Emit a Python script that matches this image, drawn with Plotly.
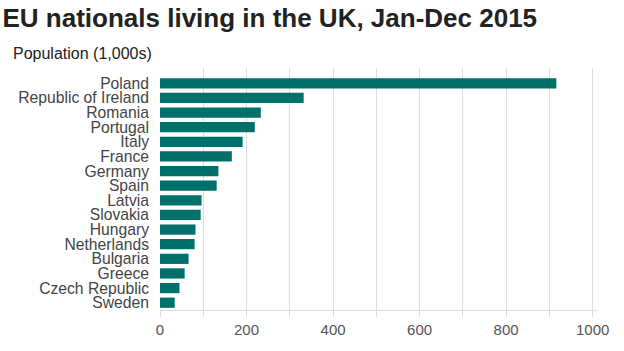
import plotly.graph_objects as go

countries = ["Poland", "Republic of Ireland", "Romania", "Portugal", "Italy", "France",
             "Germany", "Spain", "Latvia", "Slovakia", "Hungary", "Netherlands",
             "Bulgaria", "Greece", "Czech Republic", "Sweden"]
population = [916, 332, 233, 219, 191, 166, 135, 131, 96, 94, 82, 80, 66, 57, 45, 34]
x_tick_values = [0, 100, 200, 300, 400, 500, 600, 700, 800, 900, 1000]
x_tick_labels = ["0", "", "200", "", "400", "", "600", "", "800", "", "1000"]

FONT = "Liberation Sans, Arial, sans-serif"

fig = go.Figure(go.Bar(
    x=population, y=countries, orientation="h",
    marker=dict(color="#00706B", line=dict(width=0)),
    hoverinfo="x+y",
))

fig.update_layout(
    width=624, height=351,
    margin=dict(l=160, r=27, t=68, b=41),
    paper_bgcolor="white", plot_bgcolor="white",
    bargap=0.3,
    showlegend=False,
    font=dict(family=FONT, size=14, color="#444"),
    title=dict(text="<b>EU nationals living in the UK, Jan-Dec 2015</b>",
               x=0.004, xanchor="left", y=0.975, yanchor="top",
               font=dict(family=FONT, size=26, color="#222")),
    annotations=[dict(text="Population (1,000s)", xref="paper", yref="paper",
                      x=-160/437 + 11/437, xanchor="left", y=1.0, yanchor="bottom",
                      yshift=4, showarrow=False,
                      font=dict(family=FONT, size=16, color="#222"))],
)

fig.update_xaxes(
    range=[0, 1010], tickvals=x_tick_values, ticktext=x_tick_labels,
    showgrid=True, gridcolor="#dddddd", gridwidth=1,
    zeroline=False, showline=True, linecolor="#dddddd", linewidth=1,
    ticks="outside", ticklen=6, tickcolor="#dddddd",
    tickfont=dict(family=FONT, size=15, color="#555"),
    fixedrange=True,
)
fig.update_yaxes(
    categoryorder="array", categoryarray=countries,
    tickmode="array", tickvals=countries, ticktext=countries,
    range=[15.5, -1.05],
    showgrid=False, zeroline=False, showline=False, ticks="",
    ticklabelstandoff=10,
    tickfont=dict(family=FONT, size=15.7, color="#444"),
    fixedrange=True,
)

fig.write_html("out.html")
